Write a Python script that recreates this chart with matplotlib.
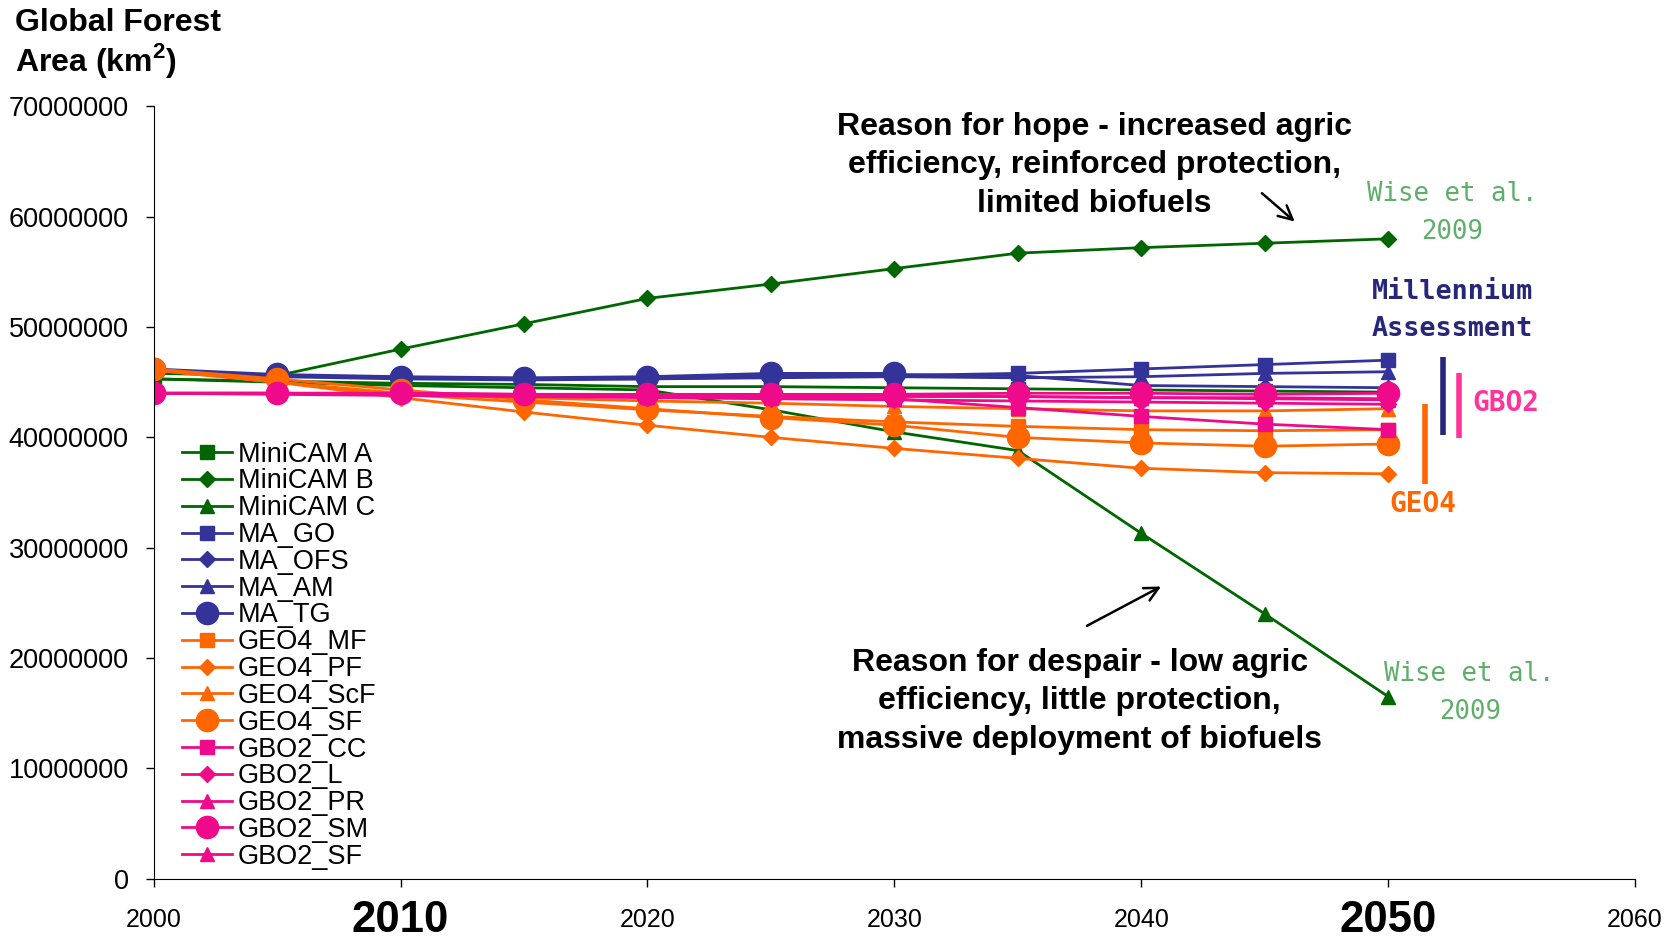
import numpy as np
import matplotlib
matplotlib.use("Agg")
import matplotlib.pyplot as plt

plt.rcParams['font.family'] = ['Liberation Sans', 'DejaVu Sans']

years = [2000, 2005, 2010, 2015, 2020, 2025, 2030, 2035, 2040, 2045, 2050]

# forest area, million km2
minicam_a = [45.3, 45.1, 44.9, 44.8, 44.6, 44.6, 44.5, 44.4, 44.3, 44.2, 44.1]
minicam_b = [45.8, 45.6, 48.0, 50.3, 52.6, 53.9, 55.3, 56.7, 57.2, 57.6, 58.0]
minicam_c = [45.3, 45.0, 44.7, 44.5, 44.3, 42.5, 40.5, 38.8, 31.3, 24.0, 16.5]
ma_go = [46.0, 45.6, 45.4, 45.3, 45.3, 45.5, 45.6, 45.8, 46.2, 46.6, 47.0]
ma_ofs = [46.1, 45.6, 45.4, 45.3, 45.4, 45.6, 45.7, 45.6, 44.7, 44.6, 44.5]
ma_am = [46.0, 45.5, 45.3, 45.2, 45.3, 45.4, 45.5, 45.4, 45.5, 45.8, 45.95]
ma_tg = [46.2, 45.7, 45.5, 45.4, 45.5, 45.8, 45.8, np.nan, np.nan, np.nan, np.nan]
geo4_mf = [46.1, 45.0, 43.9, 43.2, 42.5, 41.9, 41.4, 41.0, 40.7, 40.6, 40.7]
geo4_pf = [46.2, 45.0, 43.6, 42.3, 41.1, 40.0, 39.0, 38.1, 37.2, 36.8, 36.7]
geo4_scf = [46.1, 45.0, 44.0, 43.6, 43.3, 43.1, 42.8, 42.6, 42.4, 42.4, 42.6]
geo4_sf = [46.2, 45.3, 44.3, 43.4, 42.6, 41.8, 41.1, 40.0, 39.5, 39.2, 39.4]
gbo2_cc = [44.0, 44.0, 43.9, 43.8, 43.7, 43.6, 43.5, 42.7, 41.9, 41.2, 40.7]
gbo2_l = [44.0, 43.9, 43.8, 43.7, 43.6, 43.5, 43.4, 43.3, 43.2, 43.1, 43.0]
gbo2_pr = [44.0, 44.0, 44.0, 43.9, 43.9, 43.8, 43.8, 43.7, 43.6, 43.5, 43.4]
gbo2_sm = [44.0, 44.0, 44.0, 43.9, 43.9, 43.9, 43.9, 44.0, 44.0, 43.9, 44.0]
gbo2_sf = [44.0, 44.0, 43.9, 43.9, 43.8, 43.8, 43.7, 43.7, 43.6, 43.6, 43.5]

green = '#006600'
blue = '#333399'
orange = '#FF6600'
pink = '#EE0A8A'

series = [
    ('MiniCAM A', minicam_a, green, 's'),
    ('MiniCAM B', minicam_b, green, 'D'),
    ('MiniCAM C', minicam_c, green, '^'),
    ('MA_GO', ma_go, blue, 's'),
    ('MA_OFS', ma_ofs, blue, 'D'),
    ('MA_AM', ma_am, blue, '^'),
    ('MA_TG', ma_tg, blue, 'o'),
    ('GEO4_MF', geo4_mf, orange, 's'),
    ('GEO4_PF', geo4_pf, orange, 'D'),
    ('GEO4_ScF', geo4_scf, orange, '^'),
    ('GEO4_SF', geo4_sf, orange, 'o'),
    ('GBO2_CC', gbo2_cc, pink, 's'),
    ('GBO2_L', gbo2_l, pink, 'D'),
    ('GBO2_PR', gbo2_pr, pink, '^'),
    ('GBO2_SM', gbo2_sm, pink, 'o'),
    ('GBO2_SF', gbo2_sf, pink, '^'),
]
msize = {'s': 10, 'D': 8, '^': 10, 'o': 16}

fig = plt.figure(figsize=(16.76, 9.42), dpi=100)
ax = fig.add_axes([0.0917, 0.0673, 0.8839, 0.8197])

for name, vals, col, mk in series:
    ax.plot(years, np.array(vals) * 1e6, color=col, marker=mk, markersize=msize[mk],
            linewidth=2, label=name)

ax.set_xlim(2000, 2060)
ax.set_ylim(0, 70000000)
ax.set_xticks([2000, 2010, 2020, 2030, 2040, 2050, 2060])
ax.set_yticks(np.arange(0, 70000001, 10000000))
ax.yaxis.set_major_formatter(matplotlib.ticker.FuncFormatter(lambda v, p: '%d' % v))
ax.tick_params(axis='y', labelsize=19.5, direction='out', length=6, width=1, pad=12)
ax.tick_params(axis='x', labelsize=18, direction='out', length=6, width=1, pad=24)
for lab in ax.get_xticklabels():
    lab.set_va('center')
    if lab.get_text() in ('2010', '2050'):
        lab.set_fontsize(31.5)
        lab.set_fontweight('bold')
ax.spines['top'].set_visible(False)
ax.spines['right'].set_visible(False)

leg = ax.legend(loc='upper left', bbox_to_anchor=(0.012, 0.58), frameon=False,
                fontsize=19.5, handlelength=1.85, handletextpad=0.2, labelspacing=0.03,
                borderaxespad=0)

fig.text(0.009, 0.991, 'Global Forest\nArea (km$^\\mathregular{2}$)', fontsize=23,
         fontweight='bold', va='top', ha='left', linespacing=1.1)

ax.text(2038.1, 69.5e6, 'Reason for hope - increased agric\nefficiency, reinforced protection,\nlimited biofuels',
        fontsize=23, fontweight='bold', ha='center', va='top', linespacing=1.36)
ax.text(2037.5, 20.9e6, 'Reason for despair - low agric\nefficiency, little protection,\nmassive deployment of biofuels',
        fontsize=23, fontweight='bold', ha='center', va='top', linespacing=1.36)
ax.annotate('', xy=(2046.3, 59.4e6), xytext=(2044.8, 62.3e6),
            arrowprops=dict(arrowstyle='->', color='black', lw=1.8, mutation_scale=25))
ax.annotate('', xy=(2040.9, 26.6e6), xytext=(2037.7, 22.8e6),
            arrowprops=dict(arrowstyle='->', color='black', lw=1.8, mutation_scale=25))

mono = ['DejaVu Sans Mono']
ax.text(2052.6, 63.2e6, 'Wise et al.\n2009', color='#5FAF6A', fontsize=18.5, family=mono,
        ha='center', va='top', linespacing=1.6)
ax.text(2053.3, 19.7e6, 'Wise et al.\n2009', color='#5FAF6A', fontsize=18.5, family=mono,
        ha='center', va='top', linespacing=1.6)
ax.text(2052.6, 54.4e6, 'Millennium\nAssessment', color='#26267A', fontsize=19.3, family=mono,
        fontweight='bold', ha='center', va='top', linespacing=1.55)
ax.text(2053.4, 43.1e6, 'GBO2', color='#FF3399', fontsize=20, family=mono,
        fontweight='bold', ha='left', va='center')
ax.text(2051.4, 34.0e6, 'GEO4', color=orange, fontsize=20, family=mono,
        fontweight='bold', ha='center', va='center')

ax.plot([2052.2, 2052.2], [40.2e6, 47.3e6], color='#26267A', lw=4, solid_capstyle='butt')
ax.plot([2052.85, 2052.85], [39.9e6, 45.8e6], color='#FF3399', lw=4, solid_capstyle='butt')
ax.plot([2051.5, 2051.5], [35.8e6, 43.0e6], color=orange, lw=4, solid_capstyle='butt')

fig.savefig('out.png', dpi=100)
